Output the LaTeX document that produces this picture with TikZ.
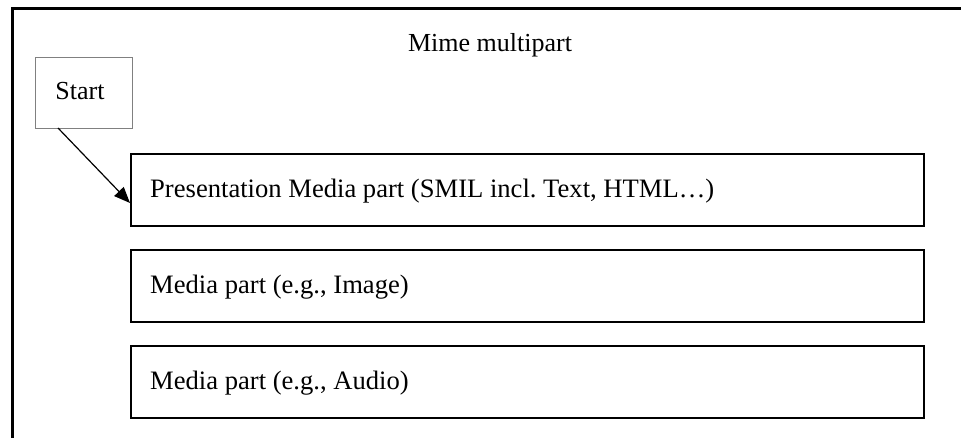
\documentclass[tikz,border=0pt]{standalone}
\usepackage{fontspec}
\setmainfont{Liberation Serif}
\usetikzlibrary{arrows.meta}
\frenchspacing
\begin{document}
\begin{tikzpicture}[x=1pt,y=-1pt,
  partbox/.style={draw=black,line width=2pt,minimum width=793pt,minimum height=72pt,anchor=north west,inner sep=0pt},
  parttext/.style={anchor=west,inner sep=0pt,font=\fontsize{26.6}{30}\selectfont},
  startbox/.style={draw=black!50,line width=1.5pt,minimum width=97pt,minimum height=71pt,anchor=north west,inner sep=0pt},
  conn/.style={line width=1.2pt,-{Triangle[length=16pt,width=13pt]}}]
\clip (0,0) rectangle (961,438);
\fill[white] (0,0) rectangle (961,438);
\draw[line width=3pt] (12,480) -- (12,9) -- (1000,9);
\node[font=\fontsize{26}{30}\selectfont,anchor=base] (title) at (490,52) {Mime multipart};
\node[startbox] (start) at (34.5,57) {};
\node[font=\fontsize{26}{30}\selectfont,anchor=base] (starttxt) at (80,100) {Start};
\node[partbox] (p1) at (130,153) {};
\node[partbox] (p2) at (130,249) {};
\node[partbox] (p3) at (130,345) {};
\node[parttext] (t1) at ([xshift=20pt,yshift=-1pt]p1.west) {Presentation Media part (SMIL incl. Text, HTML…)};
\node[parttext] (t2) at ([xshift=20pt,yshift=-1pt]p2.west) {Media part (e.g., Image)};
\node[parttext] (t3) at ([xshift=20pt,yshift=-1pt]p3.west) {Media part (e.g., Audio)};
\coordinate (ain) at (58,128);
\draw[conn] (ain) -- ([yshift=-13pt]p1.west);
\end{tikzpicture}
\end{document}
